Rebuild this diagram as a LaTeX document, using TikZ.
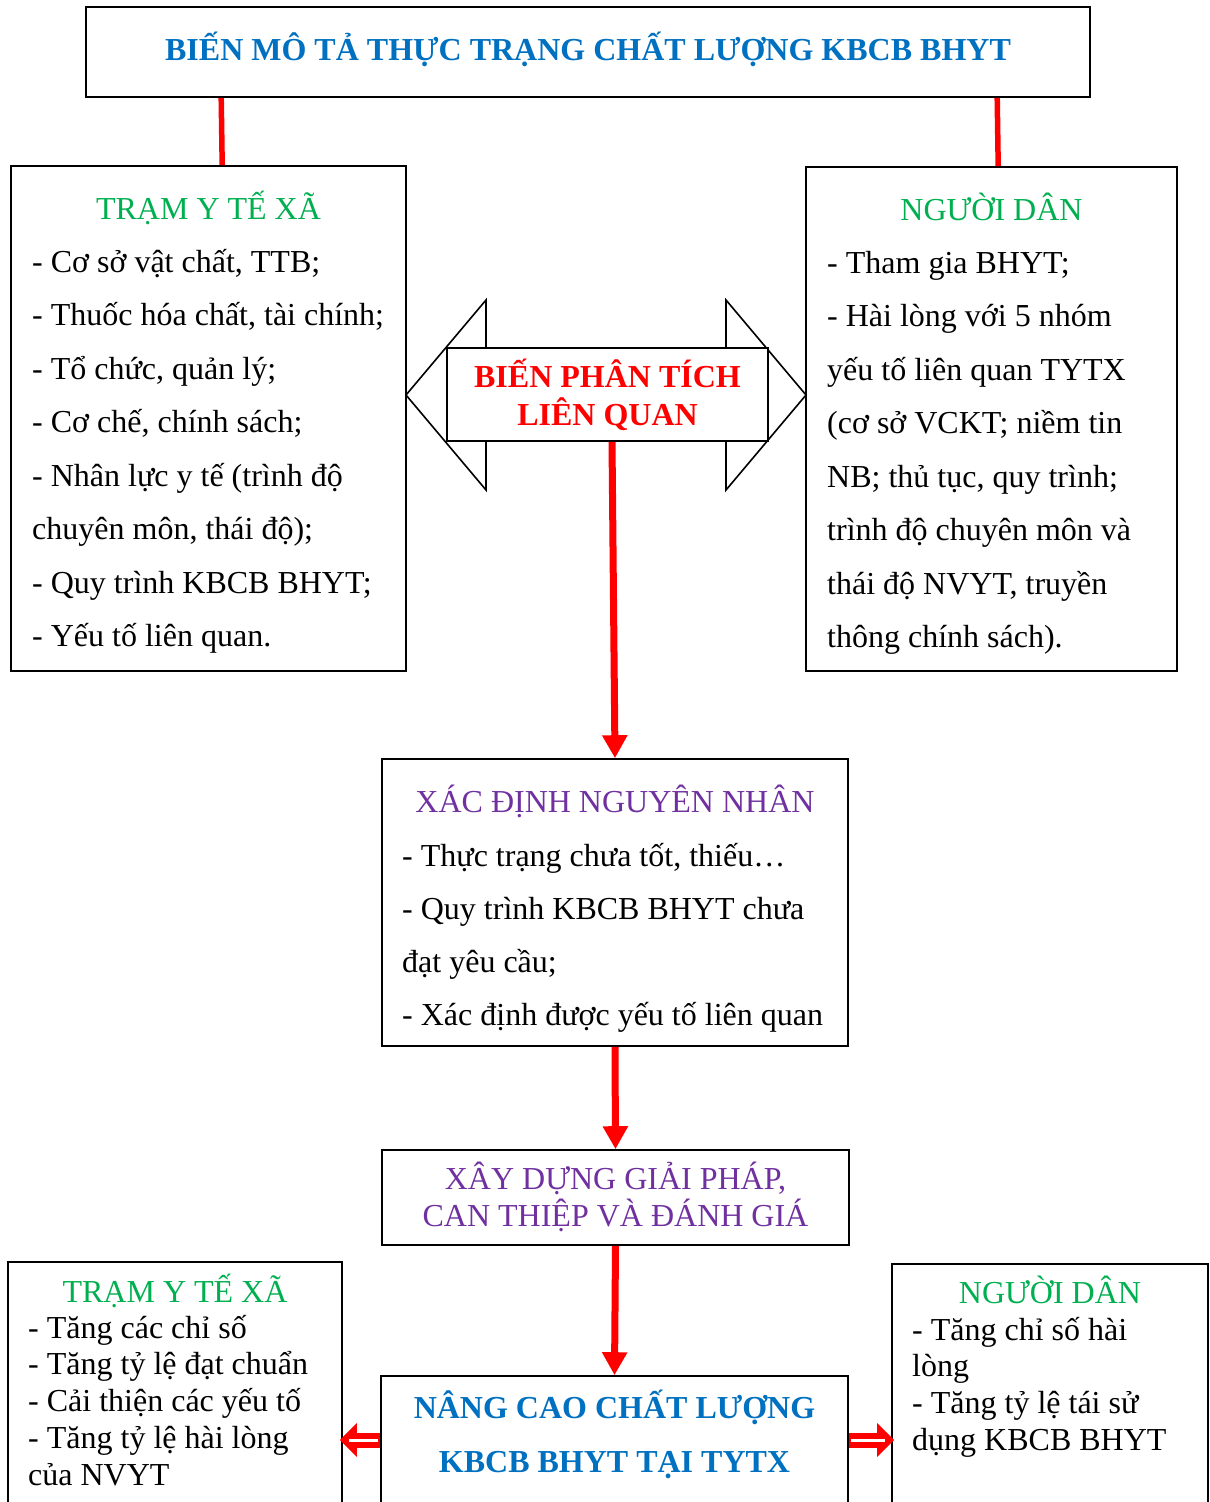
\documentclass[tikz,border=0pt]{standalone}
\usepackage{fontspec}
\setmainfont{Liberation Serif}
\usetikzlibrary{arrows.meta,calc}
\definecolor{cblue}{HTML}{0070C0}
\definecolor{cgreen}{HTML}{00B050}
\definecolor{cpurple}{HTML}{7030A0}
\definecolor{cred}{HTML}{FF0000}
\begin{document}
\begin{tikzpicture}[x=1pt,y=-1pt,
  box/.style={draw=black,line width=1.6pt,fill=white,inner sep=0pt},
  txt/.style={inner sep=0pt,anchor=base west,font=\fontsize{32}{38}\selectfont},
  ttl/.style={inner sep=0pt,anchor=base,font=\fontsize{32}{38}\selectfont},
  bttl/.style={inner sep=0pt,anchor=base,font=\fontsize{32}{38}\selectfont\bfseries},
  redline/.style={draw=cred,line width=5.5pt},
  redarrow/.style={draw=cred,line width=7pt,-{Triangle[length=23pt,width=24pt]}},
  hollowarrow/.style={draw=cred,line width=15pt,shorten >=-3pt,-{Triangle[length=17pt,width=33pt]}},
  hollowin/.style={draw=white,line width=3pt}]
\useasboundingbox (0,0) rectangle (1210,1502);
\clip (0,0) rectangle (1210,1502);
\fill[white] (0,0) rectangle (1210,1502);

% top box
\node[box,minimum width=1004pt,minimum height=90pt] (top) at (588,52) {};
\node[bttl,text=cblue] (toptxt) at (588,60) {BIẾN MÔ TẢ THỰC TRẠNG CHẤT LƯỢNG KBCB BHYT};

% left box
\node[box,minimum width=395pt,minimum height=505pt] (lbox) at (208.5,418.5) {};
\node[ttl,text=cgreen] (lttl) at (208.5,219) {TRẠM Y TẾ XÃ};
\foreach \t [count=\i from 0] in {{- Cơ sở vật chất, TTB;},{- Thuốc hóa chất, tài chính;},{- Tổ chức, quản lý;},{- Cơ chế, chính sách;},{- Nhân lực y tế (trình độ},{chuyên môn, thái độ);},{- Quy trình KBCB BHYT;},{- Yếu tố liên quan.}}
  \node[txt] (lt\i) at (32,{272+53.5*\i}) {\t};

% right box
\node[box,minimum width=371pt,minimum height=504pt] (rbox) at (991.5,419) {};
\node[ttl,text=cgreen] (rttl) at (991.5,220) {NGƯỜI DÂN};
\foreach \t [count=\i from 0] in {{- Tham gia BHYT;},{- Hài lòng với 5 nhóm},{yếu tố liên quan TYTX},{(cơ sở VCKT; niềm tin},{NB; thủ tục, quy trình;},{trình độ chuyên môn và},{thái độ NVYT, truyền},{thông chính sách).}}
  \node[txt] (rt\i) at (827,{273+53.5*\i}) {\t};

% connectors from top box
\draw[redline] ([xshift=136pt]top.south west) -- ([xshift=212pt]lbox.north west);
\draw[redline] ([xshift=912pt]top.south west) -- ([xshift=193pt]rbox.north west);

% double block arrow
\draw[black,line width=1.6pt,fill=white,line join=miter] (406,395) -- (486,300) -- (486,348) -- (726,348) -- (726,300) -- (806,395) -- (726,490) -- (726,441) -- (486,441) -- (486,490) -- cycle;
\node[box,minimum width=321pt,minimum height=93pt] (dbl) at (607.5,394.5) {};
\node[bttl,text=cred] (dbl1) at (607.5,387) {BIẾN PHÂN TÍCH};
\node[bttl,text=cred] (dbl2) at (607.5,425) {LIÊN QUAN};

% middle box
\node[box,minimum width=466pt,minimum height=287pt] (mid) at (615,902.5) {};
\node[ttl,text=cpurple] (midttl) at (615,812.5) {XÁC ĐỊNH NGUYÊN NHÂN};
\foreach \t [count=\i from 0] in {{- Thực trạng chưa tốt, thiếu…},{- Quy trình KBCB BHYT chưa},{đạt yêu cầu;},{- Xác định được yếu tố liên quan}}
  \node[txt] (mt\i) at (402,{866+53*\i}) {\t};

% solution box
\node[box,minimum width=467pt,minimum height=95pt] (sol) at (615.5,1197.5) {};
\node[ttl,text=cpurple] (sol1) at (615.5,1189) {XÂY DỰNG GIẢI PHÁP,};
\node[ttl,text=cpurple] (sol2) at (615.5,1226) {CAN THIỆP VÀ ĐÁNH GIÁ};

% final box
\node[box,minimum width=467pt,minimum height=144pt] (fin) at (614.5,1448) {};
\node[bttl,text=cblue] (fin1) at (614.5,1418) {NÂNG CAO CHẤT LƯỢNG};
\node[bttl,text=cblue] (fin2) at (614.5,1472) {KBCB BHYT TẠI TYTX};

% bottom left box
\node[box,minimum width=334pt,minimum height=258pt] (bl) at (175,1391) {};
\node[ttl,text=cgreen] (blttl) at (175,1302) {TRẠM Y TẾ XÃ};
\foreach \t [count=\i from 0] in {{- Tăng các chỉ số},{- Tăng tỷ lệ đạt chuẩn},{- Cải thiện các yếu tố},{- Tăng tỷ lệ hài lòng},{của NVYT}}
  \node[txt] (blt\i) at (28,{1338+36.8*\i}) {\t};

% bottom right box
\node[box,minimum width=316pt,minimum height=256pt] (br) at (1050,1392) {};
\node[ttl,text=cgreen] (brttl) at (1050,1303) {NGƯỜI DÂN};
\foreach \t [count=\i from 0] in {{- Tăng chỉ số hài},{lòng},{- Tăng tỷ lệ tái sử},{dụng KBCB BHYT}}
  \node[txt] (brt\i) at (912,{1340+36.8*\i}) {\t};

% vertical red arrows
\draw[redarrow] ([xshift=4.5pt]dbl.south) -- (mid.north);
\draw[redarrow] (mid.south) -- (sol.north);
\draw[redarrow] (sol.south) -- (fin.north);

% hollow side arrows
\coordinate (ay) at (0,1440);
\draw[hollowarrow] (fin.west |- ay) -- (bl.east |- ay);
\draw[hollowin] ([xshift=-2pt]fin.west |- ay) -- ([xshift=6pt]bl.east |- ay);
\draw[hollowarrow] (fin.east |- ay) -- (br.west |- ay);
\draw[hollowin] ([xshift=2pt]fin.east |- ay) -- ([xshift=-6pt]br.west |- ay);
\end{tikzpicture}
\end{document}
